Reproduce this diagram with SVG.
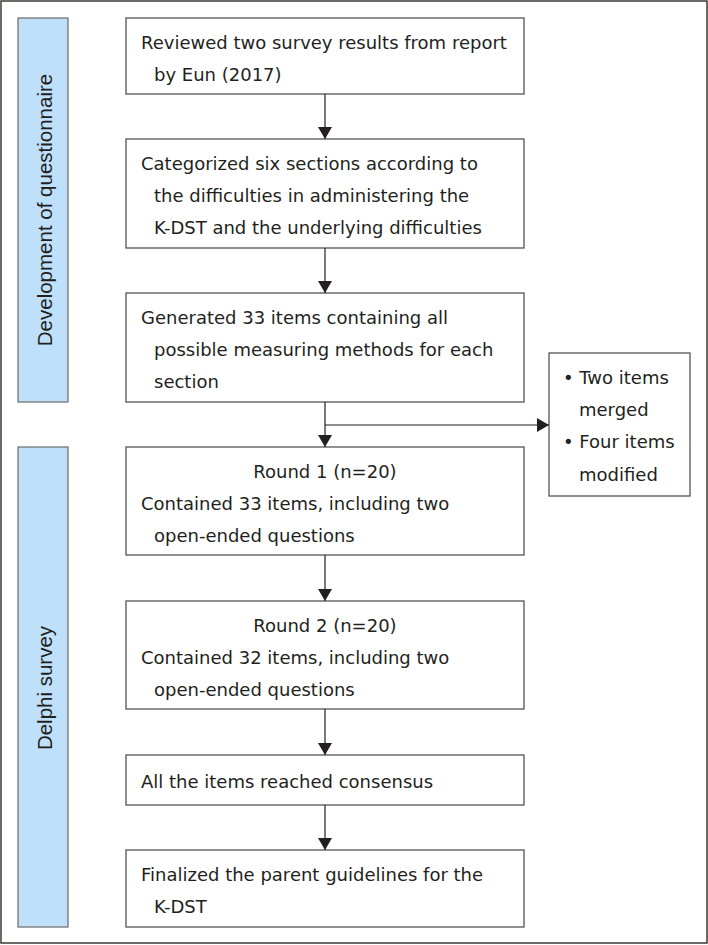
<svg xmlns="http://www.w3.org/2000/svg" width="708" height="945" viewBox="0 0 708 945">
<style>
.t{font-family:"DejaVu Sans","Liberation Sans",sans-serif;font-size:18px;fill:#231f20}
.v{font-family:"Liberation Sans","DejaVu Sans",sans-serif;font-size:20.5px;fill:#231f20}
.box{fill:#fff;stroke:#555;stroke-width:1.3}
.bar{fill:#bfe0fb;stroke:#6a6a6a;stroke-width:1.2}
.c{stroke:#231f20;stroke-width:1.2;fill:none}
</style>
<defs>
<marker id="ah" markerWidth="12" markerHeight="14" refX="12" refY="7" orient="auto" markerUnits="userSpaceOnUse" viewBox="0 0 12 14">
<path d="M0,0 L12,7 L0,14 Z" fill="#231f20"/>
</marker>
</defs>
<rect x="1" y="1" width="706" height="942" fill="#fff" stroke="#3d3a38" stroke-width="1.5"/>
<g id="bar1"><rect class="bar" x="18" y="18" width="50" height="384"/>
<text class="v" transform="translate(52,210) rotate(-90)" text-anchor="middle">Development of questionnaire</text></g>
<g id="bar2"><rect class="bar" x="18" y="447" width="50" height="480"/>
<text class="v" transform="translate(52,688) rotate(-90)" text-anchor="middle">Delphi survey</text></g>
<g id="n1"><rect class="box" x="126" y="18" width="398" height="76"/>
<text class="t" x="141" y="49">Reviewed two survey results from report</text>
<text class="t" x="154" y="81">by Eun (2017)</text></g>
<g id="n2"><rect class="box" x="126" y="139" width="398" height="109"/>
<text class="t" x="141" y="170">Categorized six sections according to</text>
<text class="t" x="154" y="202">the difficulties in administering the</text>
<text class="t" x="154" y="234">K-DST and the underlying difficulties</text></g>
<g id="n3"><rect class="box" x="126" y="293" width="398" height="109"/>
<text class="t" x="141" y="324">Generated 33 items containing all</text>
<text class="t" x="154" y="356">possible measuring methods for each</text>
<text class="t" x="154" y="388">section</text></g>
<g id="n4"><rect class="box" x="126" y="447" width="398" height="108"/>
<text class="t" x="325" y="478" text-anchor="middle">Round 1 (n=20)</text>
<text class="t" x="141" y="510">Contained 33 items, including two</text>
<text class="t" x="154" y="542">open-ended questions</text></g>
<g id="n5"><rect class="box" x="126" y="601" width="398" height="108"/>
<text class="t" x="325" y="632" text-anchor="middle">Round 2 (n=20)</text>
<text class="t" x="141" y="664">Contained 32 items, including two</text>
<text class="t" x="154" y="696">open-ended questions</text></g>
<g id="n6"><rect class="box" x="126" y="755" width="398" height="50"/>
<text class="t" x="141" y="788">All the items reached consensus</text></g>
<g id="n7"><rect class="box" x="126" y="850" width="398" height="77"/>
<text class="t" x="141" y="881">Finalized the parent guidelines for the</text>
<text class="t" x="154" y="913">K-DST</text></g>
<g id="side"><rect class="box" x="549" y="353" width="141" height="143"/>
<text class="t" x="563" y="384">• Two items</text>
<text class="t" x="579" y="416">merged</text>
<text class="t" x="563" y="448">• Four items</text>
<text class="t" x="579" y="481">modified</text></g>
<g id="connectors">
<line class="c" x1="325" y1="94" x2="325" y2="139" marker-end="url(#ah)"/>
<line class="c" x1="325" y1="248" x2="325" y2="293" marker-end="url(#ah)"/>
<line class="c" x1="325" y1="402" x2="325" y2="447" marker-end="url(#ah)"/>
<line class="c" x1="325" y1="425" x2="549" y2="425" marker-end="url(#ah)"/>
<line class="c" x1="325" y1="555" x2="325" y2="601" marker-end="url(#ah)"/>
<line class="c" x1="325" y1="709" x2="325" y2="755" marker-end="url(#ah)"/>
<line class="c" x1="325" y1="805" x2="325" y2="850" marker-end="url(#ah)"/>
</g>
</svg>
